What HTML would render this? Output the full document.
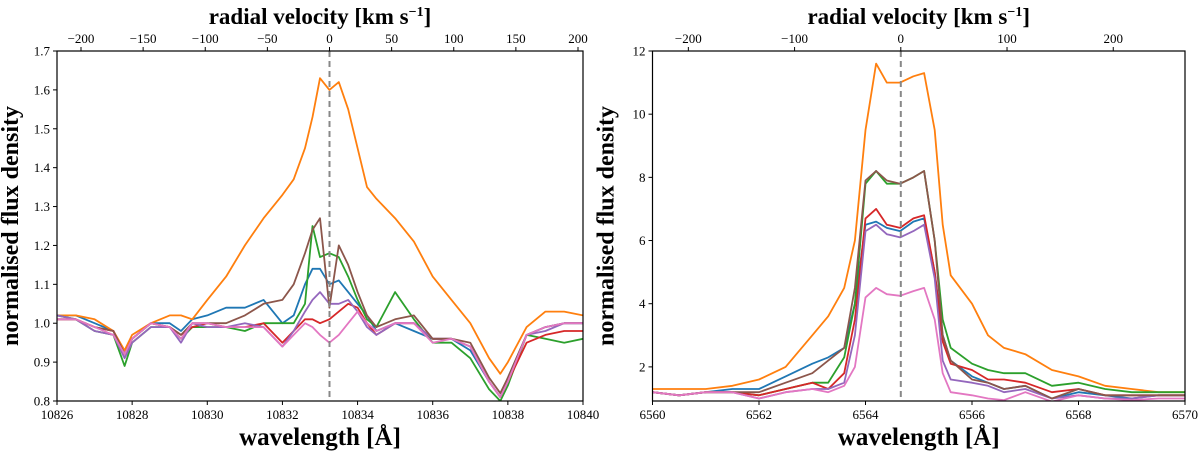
<!DOCTYPE html>
<html><head><meta charset="utf-8"><style>
body{margin:0;background:#fff;width:1200px;height:454px;overflow:hidden;font-family:"Liberation Serif",serif}
svg text{font-family:"Liberation Serif",serif}
</style></head><body>
<svg id="fig" width="1200" height="454" xmlns="http://www.w3.org/2000/svg"></svg>
<script>
const colors=["#1f77b4","#ff7f0e","#2ca02c","#d62728","#9467bd","#8c564b","#e377c2"];
const seriesNames=["blue","orange","green","red","purple","brown","pink"];
// Left panel (He I 10830)
const leftWave=[10826,10826.5,10827,10827.5,10827.8,10828,10828.5,10829,10829.3,10829.6,10830,10830.5,10831,10831.5,10832,10832.3,10832.6,10832.8,10833,10833.25,10833.5,10833.75,10834,10834.25,10834.5,10835,10835.5,10836,10836.5,10837,10837.5,10837.8,10838,10838.5,10839,10839.5,10840];
const leftBlue=[1.02,1.02,1.00,0.98,0.92,0.96,1.00,1.00,0.98,1.01,1.02,1.04,1.04,1.06,1.00,1.02,1.10,1.14,1.14,1.10,1.11,1.08,1.05,1.02,0.98,1.00,0.98,0.96,0.96,0.93,0.85,0.81,0.86,0.97,0.99,1.00,1.00];
const leftOrange=[1.02,1.02,1.01,0.98,0.93,0.97,1.00,1.02,1.02,1.01,1.06,1.12,1.20,1.27,1.33,1.37,1.45,1.53,1.63,1.60,1.62,1.55,1.45,1.35,1.32,1.27,1.21,1.12,1.06,1.00,0.91,0.87,0.90,0.99,1.03,1.03,1.02];
const leftGreen=[1.02,1.01,0.98,0.97,0.89,0.95,0.99,0.99,0.96,0.99,0.99,0.99,0.98,1.00,1.00,1.00,1.05,1.25,1.17,1.18,1.17,1.12,1.06,1.01,0.99,1.08,1.01,0.95,0.95,0.91,0.83,0.80,0.84,0.97,0.96,0.95,0.96];
const leftRed=[1.01,1.01,0.99,0.98,0.92,0.96,1.00,0.99,0.97,0.99,1.00,0.99,0.99,1.00,0.95,0.98,1.01,1.01,1.00,1.01,1.03,1.05,1.04,1.00,0.97,1.00,1.00,0.96,0.96,0.94,0.85,0.81,0.85,0.95,0.97,0.98,0.98];
const leftPurple=[1.02,1.01,0.98,0.97,0.91,0.95,0.99,0.99,0.95,1.00,0.99,0.99,1.00,0.99,0.94,0.98,1.03,1.06,1.08,1.05,1.05,1.06,1.03,0.99,0.97,1.00,1.00,0.96,0.96,0.94,0.85,0.81,0.85,0.97,0.98,1.00,1.00];
const leftBrown=[1.01,1.01,0.99,0.98,0.92,0.96,1.00,0.99,0.97,1.00,1.00,1.00,1.02,1.05,1.06,1.10,1.18,1.24,1.27,1.04,1.20,1.15,1.08,1.02,0.99,1.01,1.02,0.96,0.96,0.95,0.86,0.82,0.86,0.97,0.99,1.00,1.00];
const leftPink=[1.01,1.01,0.99,0.97,0.92,0.96,1.00,0.99,0.96,1.00,1.00,0.99,0.99,0.99,0.94,0.97,1.00,0.99,0.97,0.95,0.97,1.00,1.03,1.00,0.98,1.00,1.00,0.95,0.96,0.94,0.85,0.81,0.85,0.97,0.99,1.00,1.00];
const leftXTicks=[10826,10828,10830,10832,10834,10836,10838,10840];
const leftYTicks=[0.8,0.9,1.0,1.1,1.2,1.3,1.4,1.5,1.6,1.7];
const leftVTicks=[-200,-150,-100,-50,0,50,100,150,200];
// Right panel (H alpha)
const rightWave=[6560,6560.5,6561,6561.5,6562,6562.5,6563,6563.3,6563.6,6563.8,6564,6564.2,6564.4,6564.65,6564.9,6565.1,6565.3,6565.45,6565.6,6566,6566.3,6566.6,6567,6567.5,6568,6568.5,6569,6569.5,6570];
const rightBlue=[1.2,1.1,1.2,1.3,1.3,1.7,2.1,2.3,2.6,4.0,6.5,6.6,6.4,6.3,6.6,6.7,5.0,3.0,2.2,1.7,1.5,1.3,1.4,1.0,1.2,1.1,1.0,1.1,1.1];
const rightOrange=[1.3,1.3,1.3,1.4,1.6,2.0,3.0,3.6,4.5,6.0,9.5,11.6,11.0,11.0,11.2,11.3,9.5,6.5,4.9,4.0,3.0,2.6,2.4,1.9,1.7,1.4,1.3,1.2,1.2];
const rightGreen=[1.2,1.1,1.2,1.2,1.1,1.3,1.5,1.5,2.3,4.0,7.8,8.2,7.8,7.8,8.0,8.2,6.0,3.5,2.6,2.1,1.9,1.8,1.8,1.4,1.5,1.3,1.2,1.2,1.2];
const rightRed=[1.2,1.1,1.2,1.2,1.1,1.3,1.5,1.3,1.8,3.5,6.7,7.0,6.5,6.4,6.7,6.8,5.0,2.8,2.1,1.9,1.6,1.6,1.5,1.2,1.3,1.1,1.1,1.1,1.1];
const rightPurple=[1.2,1.1,1.2,1.2,1.0,1.2,1.3,1.3,1.5,3.0,6.3,6.5,6.2,6.1,6.3,6.5,4.8,2.2,1.6,1.5,1.4,1.2,1.3,1.0,1.1,1.0,1.0,1.1,1.1];
const rightBrown=[1.2,1.1,1.2,1.2,1.2,1.5,1.8,2.2,2.6,4.5,7.9,8.2,7.9,7.8,8.0,8.2,6.0,3.0,2.2,1.6,1.5,1.3,1.4,1.0,1.3,1.1,1.1,1.1,1.1];
const rightPink=[1.2,1.1,1.2,1.2,1.0,1.2,1.3,1.2,1.4,2.0,4.2,4.5,4.3,4.25,4.4,4.5,3.5,1.8,1.2,1.1,1.0,0.95,1.2,0.9,1.1,1.0,0.95,1.0,1.0];
const rightXTicks=[6560,6562,6564,6566,6568,6570];
const rightYTicks=[2,4,6,8,10,12];
const rightVTicks=[-200,-100,0,100,200];

const NS="http://www.w3.org/2000/svg";
const svg=document.getElementById('fig');
function el(tag,attrs,parent){const e=document.createElementNS(NS,tag);for(const k in attrs)e.setAttribute(k,attrs[k]);(parent||svg).appendChild(e);return e;}

function panel(p){
  const g=el('g',{});
  
  
  const X=v=>p.x0+(v-p.xmin)/(p.xmax-p.xmin)*(p.x1-p.x0);
  const Y=v=>p.y1-(v-p.ymin)/(p.ymax-p.ymin)*(p.y1-p.y0);
  const V=v=>p.v0px+(v)*p.vscale;
  const defs=el('clipPath',{id:p.name+'-clip'},g);
  el('rect',{x:p.x0,y:p.y0,width:p.x1-p.x0,height:p.y1-p.y0},defs);
  const lines=el('g',{'clip-path':'url(#'+p.name+'-clip)'},g);
  p.series.forEach((s,i)=>{
    const d=p.wave.map((w,j)=>(j?'L':'M')+X(w).toFixed(1)+' '+Y(s[j]).toFixed(1)).join(' ');
    const path=el('path',{d:d,fill:'none',stroke:colors[i],'stroke-width':1.8,'stroke-linejoin':'round'},lines);
    
    
  });
  const dl=el('line',{x1:V(0),x2:V(0),y1:p.y0,y2:p.y1,stroke:'#888','stroke-width':2,'stroke-dasharray':'6,4'},g);
  
  
  const fr=el('rect',{x:p.x0,y:p.y0,width:p.x1-p.x0,height:p.y1-p.y0,fill:'none',stroke:'#000','stroke-width':1.2},g);
  
  
  p.xt.forEach(t=>{
    el('line',{x1:X(t),x2:X(t),y1:p.y1,y2:p.y1+4,stroke:'#000'},g);
    const tx=el('text',{x:X(t),y:p.y1+18,'text-anchor':'middle','font-size':13},g);tx.textContent=t;
    
    
  });
  p.yt.forEach(t=>{
    el('line',{x1:p.x0-4,x2:p.x0,y1:Y(t),y2:Y(t),stroke:'#000'},g);
    const tx=el('text',{x:p.x0-7,y:Y(t)+4.5,'text-anchor':'end','font-size':13},g);tx.textContent=p.yfmt(t);
    
    
  });
  p.vt.forEach(t=>{
    el('line',{x1:V(t),x2:V(t),y1:p.y0-4,y2:p.y0,stroke:'#000'},g);
    const tx=el('text',{x:V(t),y:p.y0-8,'text-anchor':'middle','font-size':13},g);tx.textContent=(t<0?'\u2212'+(-t):t);
    
    
  });
  const xl=el('text',{x:(p.x0+p.x1)/2,y:445,'text-anchor':'middle','font-size':25,'font-weight':'bold'},g);
  xl.textContent='wavelength [Å]';
  
  
  const tl=el('text',{x:(p.x0+p.x1)/2,y:24,'text-anchor':'middle','font-size':23,'font-weight':'bold'},g);
  tl.innerHTML='radial velocity [km s<tspan dy="-8" font-size="14">−1</tspan><tspan dy="8">]</tspan>';
  
  
  const yl=el('text',{x:0,y:0,'text-anchor':'middle','font-size':24,'font-weight':'bold',transform:`translate(${p.x0-39},${(p.y0+p.y1)/2}) rotate(-90)`},g);
  yl.textContent='normalised flux density';
  
  
}
panel({name:'helium-panel',x0:57,x1:583,y0:51,y1:401,xmin:10826,xmax:10840,ymin:0.8,ymax:1.7,
  v0px:329.5,vscale:(578-81)/400,wave:leftWave,
  series:[leftBlue,leftOrange,leftGreen,leftRed,leftPurple,leftBrown,leftPink],
  xt:leftXTicks,yt:leftYTicks,vt:leftVTicks,yfmt:t=>t.toFixed(1)});
panel({name:'halpha-panel',x0:652.5,x1:1185,y0:51,y1:401,xmin:6560,xmax:6570,ymin:0.92,ymax:12,
  v0px:900.8,vscale:(1113.4-688.5)/400,wave:rightWave,
  series:[rightBlue,rightOrange,rightGreen,rightRed,rightPurple,rightBrown,rightPink],
  xt:rightXTicks,yt:rightYTicks,vt:rightVTicks,yfmt:t=>String(t)});
</script>
</body></html>
